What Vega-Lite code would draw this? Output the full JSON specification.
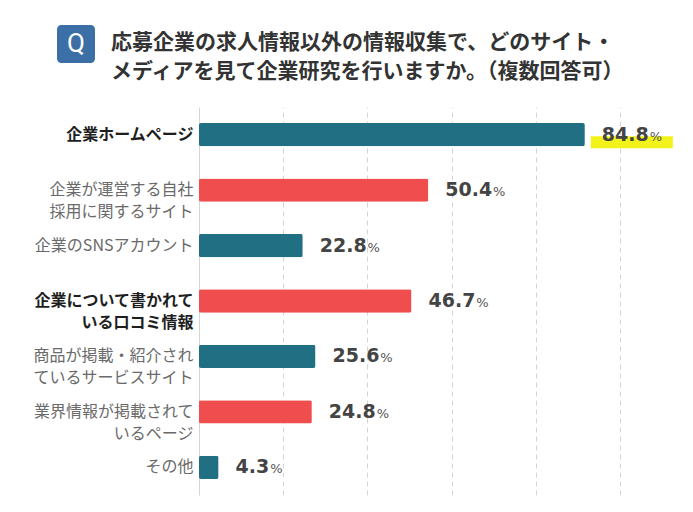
{
  "$schema": "https://vega.github.io/schema/vega-lite/v6.json",
  "width": 455,
  "height": 388,
  "autosize": "none",
  "padding": {"left": 199, "top": 107, "right": 39, "bottom": 17},
  "background": "white",
  "config": {"view": {"stroke": null}, "font": "Noto Sans CJK JP"},
  "title": {
    "text": ["応募企業の求人情報以外の情報収集で、どのサイト・", "メディアを見て企業研究を行いますか。（複数回答可）"],
    "anchor": "start",
    "frame": "group",
    "dx": -88,
    "offset": 0,
    "dy": 57,
    "fontSize": 21,
    "fontWeight": "bold",
    "color": "#333333",
    "lineHeight": 29,
    "font": "Noto Sans CJK JP"
  },
  "data": {
    "values": [
      {"item": "企業ホームページ", "value": 84.8},
      {"item": "企業が運営する自社\n採用に関するサイト", "value": 50.4},
      {"item": "企業のSNSアカウント", "value": 22.8},
      {"item": "企業について書かれて\nいる口コミ情報", "value": 46.7},
      {"item": "商品が掲載・紹介され\nているサービスサイト", "value": 25.6},
      {"item": "業界情報が掲載されて\nいるページ", "value": 24.8},
      {"item": "その他", "value": 4.3}
    ]
  },
  "transform": [
    {"calculate": "format(datum.value, '.1f')", "as": "label"},
    {"calculate": "datum.value + (25.2 + 13.2 * (length(datum.label) - 1)) / 4.55", "as": "pctPos"},
    {"calculate": "datum.value + 6 / 4.55", "as": "hx"},
    {"calculate": "datum.value + 88 / 4.55", "as": "hx2"}
  ],
  "encoding": {
    "y": {
      "field": "item",
      "type": "nominal",
      "sort": null,
      "scale": {"paddingInner": 0.58, "paddingOuter": 0.29},
      "axis": {
        "title": null,
        "ticks": false,
        "domainColor": "#d5d5d5",
        "labelFontSize": 16,
        "labelLineHeight": 22,
        "labelPadding": 6,
        "labelLimit": 300,
        "labelFont": "Noto Sans CJK JP",
        "labelExpr": "split(datum.label, '\\n')",
        "labelColor": {"condition": {"test": "datum.value === '企業ホームページ' || indexof(datum.value, '口コミ') >= 0", "value": "#1e1e1e"}, "value": "#6a6a6a"},
        "labelFontWeight": {"condition": {"test": "datum.value === '企業ホームページ' || indexof(datum.value, '口コミ') >= 0", "value": "bold"}, "value": "normal"}
      }
    },
    "x": {
      "field": "value",
      "type": "quantitative",
      "scale": {"domain": [0, 100]},
      "axis": {
        "title": null,
        "labels": false,
        "ticks": false,
        "domain": false,
        "grid": true,
        "gridDash": [5, 4],
        "gridColor": "#d4d4d4",
        "values": [18.5, 37, 55.5, 74, 92.5]
      }
    }
  },
  "layer": [
    {
      "mark": {"type": "bar", "cornerRadius": 2},
      "encoding": {
        "color": {
          "field": "item",
          "type": "nominal",
          "scale": {
            "domain": ["企業ホームページ", "企業が運営する自社\n採用に関するサイト", "企業のSNSアカウント", "企業について書かれて\nいる口コミ情報", "商品が掲載・紹介され\nているサービスサイト", "業界情報が掲載されて\nいるページ", "その他"],
            "range": ["#216f82", "#f04e4e", "#216f82", "#f04e4e", "#216f82", "#f04e4e", "#216f82"]
          },
          "legend": null
        }
      }
    },
    {
      "transform": [{"filter": "datum.item === '企業ホームページ'"}],
      "mark": {"type": "bar", "height": 12, "yOffset": 7.5, "color": "#f3f31c"},
      "encoding": {
        "x": {"field": "hx", "type": "quantitative"},
        "x2": {"field": "hx2"}
      }
    },
    {
      "mark": {"type": "text", "align": "left", "baseline": "alphabetic", "dx": 17, "dy": 6, "font": "DejaVu Sans", "fontWeight": "bold", "fontSize": 19, "color": "#444444"},
      "encoding": {"text": {"field": "label", "type": "nominal"}}
    },
    {
      "mark": {"type": "text", "align": "left", "baseline": "alphabetic", "dy": 6, "font": "DejaVu Sans", "fontSize": 13, "color": "#555555"},
      "encoding": {
        "x": {"field": "pctPos", "type": "quantitative"},
        "text": {"value": "%"}
      }
    },
    {
      "transform": [{"filter": "datum.item === '企業ホームページ'"}],
      "mark": {"type": "point", "filled": true, "size": 0, "color": "#3b6fa6"},
      "encoding": {
        "shape": {
          "datum": "Q",
          "scale": {"range": ["M-0.75,-1L0.75,-1Q1,-1,1,-0.75L1,0.75Q1,1,0.75,1L-0.75,1Q-1,1,-1,0.75L-1,-0.75Q-1,-1,-0.75,-1Z"]},
          "legend": {
            "orient": "none",
            "legendX": -142,
            "legendY": -82,
            "title": null,
            "padding": 0,
            "symbolSize": 1444,
            "symbolFillColor": "#3b6fa6",
            "symbolStrokeWidth": 0,
            "symbolOpacity": 1,
            "labelColor": "#ffffff",
            "labelFont": "Roboto",
            "labelFontSize": 26,
            "labelOffset": -28
          }
        }
      }
    }
  ]
}
